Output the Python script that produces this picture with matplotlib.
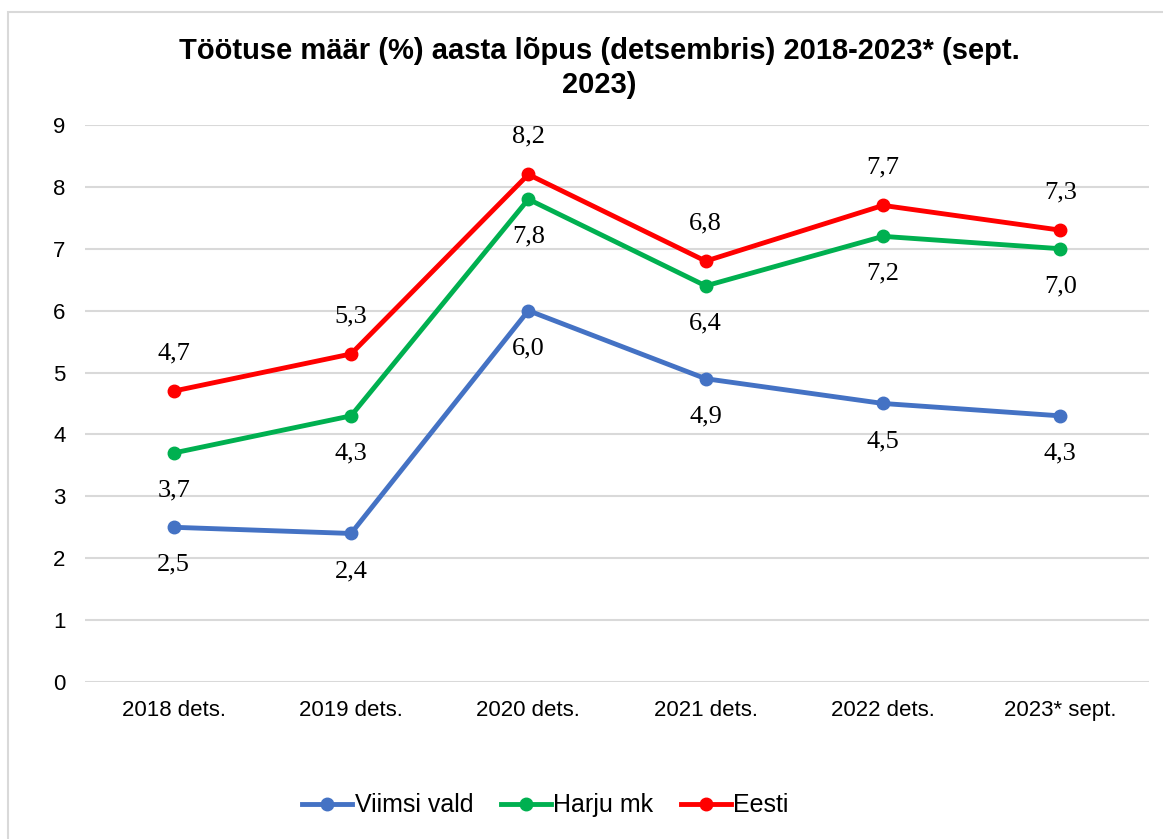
import matplotlib.pyplot as plt
from matplotlib.patches import Rectangle
import numpy as np

# Andmed
categories = ['2018 dets.', '2019 dets.', '2020 dets.', '2021 dets.', '2022 dets.', '2023* sept.']
viimsi = [2.5, 2.4, 6.0, 4.9, 4.5, 4.3]
harju = [3.7, 4.3, 7.8, 6.4, 7.2, 7.0]
eesti = [4.7, 5.3, 8.2, 6.8, 7.7, 7.3]

series = [
    ('Viimsi vald', viimsi, '#4472C4', -1),
    ('Harju mk', harju, '#00B050', -1),
    ('Eesti', eesti, '#FF0000', 1),
]

fig = plt.figure(figsize=(11.63, 8.39), dpi=100)
ax = fig.add_axes([0.0731, 0.1871, 0.9149, 0.6640])
x = np.arange(len(categories))

for name, vals, color, side in series:
    ax.plot(x, vals, color=color, linewidth=3.5, marker='o', markersize=9, label=name)
    for xi, v in zip(x, vals):
        ax.annotate(f'{v:.1f}'.replace('.', ','), (xi, v), xytext=(0, 27 * side),
                    textcoords='offset points', ha='center', va='center',
                    fontsize=19, family='Liberation Serif')

ax.set_xlim(-0.5, len(categories) - 0.5)
ax.set_ylim(0, 9)
ax.set_yticks(range(10))
ax.set_xticks(x)
ax.set_xticklabels(categories)
for lab in ax.get_xticklabels() + ax.get_yticklabels():
    lab.set_family('Liberation Sans')
    lab.set_fontsize(16)
ax.tick_params(length=0)
ax.tick_params(axis='x', pad=13)
ax.tick_params(axis='y', pad=14)
ax.grid(axis='y', color='#D9D9D9', linewidth=1.5)
ax.set_axisbelow(True)
for spine in ax.spines.values():
    spine.set_visible(False)

fig.text(0.515, 0.919, 'Töötuse määr (%) aasta lõpus (detsembris) 2018-2023* (sept.\n2023)',
         ha='center', va='center', fontsize=21, fontweight='bold',
         family='Liberation Sans', linespacing=1.25)

fig.legend(loc='center', bbox_to_anchor=(0.469, 0.04), ncol=3, frameon=False,
           prop={'family': 'Liberation Sans', 'size': 18}, handlelength=2.0,
           handletextpad=0.1, columnspacing=1.1)

# Rahmen
fig.patches.append(Rectangle((8 / 1163, -0.01), 1.0, 1 - 12 / 839 + 0.01,
                             transform=fig.transFigure, fill=False,
                             edgecolor='#D9D9D9', linewidth=1.5))

plt.savefig('out.png')
plt.close()
